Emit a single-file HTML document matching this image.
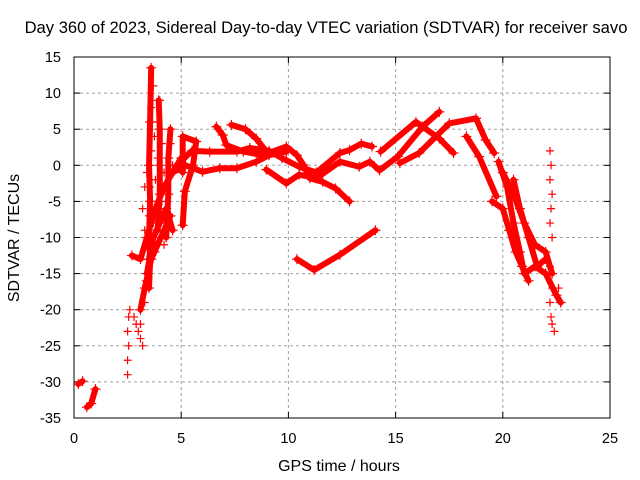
<!DOCTYPE html>
<html><head><meta charset="utf-8"><style>
body{margin:0;background:#fff}
svg{display:block;font-family:"Liberation Sans",sans-serif}
</style></head><body>
<svg id="chart" width="640" height="480" viewBox="0 0 640 480">
<rect width="640" height="480" fill="#fff"/>
<text x="326" y="33" font-size="16.6" text-anchor="middle">Day 360 of 2023, Sidereal Day-to-day VTEC variation (SDTVAR) for receiver savo</text>
<text x="339" y="471" font-size="16" text-anchor="middle">GPS time / hours</text>
<text transform="translate(19,238) rotate(-90)" font-size="16" text-anchor="middle">SDTVAR / TECUs</text>
<g id="grid"></g><g id="ticks"></g><g id="marks"></g>
<rect x="74" y="57" width="536" height="361" fill="none" stroke="#000" stroke-width="1"/>
</svg>
<script>
const xTicks=[0,5,10,15,20,25];
const yTicks=[15,10,5,0,-5,-10,-15,-20,-25,-30,-35];
// dense tracks (hour, TECU)
const trackX1=[6.64,6.94,7.1,7.9,8.8,9.9,10.4,10.7,11.0,11.6,12.2,12.85];
const trackY1=[5.35,4.2,2.8,1.9,1.4,2.6,1.4,0.05,-1.8,-2.3,-3.2,-5.0];
const trackX2=[7.34,8.0,8.5,8.97,9.5,9.9];
const trackY2=[5.6,5.0,3.7,1.9,1.7,1.9];
const trackX3=[5.07,5.07,5.7,5.55,5.17,5.07];
const trackY3=[-1,4.0,3.3,0,-3.6,-8.3];
const trackX4=[4.6,5.2,6.0,6.8,7.6,8.5,9.1,9.9];
const trackY4=[-1,0,-0.9,-0.4,-0.4,0.5,1.4,1.9];
const trackX5=[4.8,5.5,6.33,7.6,8.2,9.1,9.7,10.5,11.3,12.4,12.85,13.4,13.9];
const trackY5=[0,2.0,1.9,1.9,2.4,2.0,1.0,-0.2,-1.0,1.7,2.1,3.0,2.6];
const trackX6=[8.97,9.9,10.5,11.3,12.4,13.3,13.8,14.25,15.1,16.26,17.04];
const trackY6=[-0.6,-2.5,-1.3,-1.8,0.5,-0.2,0.5,-0.7,1.2,5.35,7.4];
const trackX7=[14.3,15.95,16.26,17.04,17.7];
const trackY7=[1.9,6.0,5.35,3.7,1.7];
const trackX8=[15.2,16.1,17.5,18.75,19.2,19.6];
const trackY8=[0.3,1.7,5.8,6.5,3.5,1.7];
const trackX9=[18.3,18.9,19.7];
const trackY9=[4.0,1.2,-4.3];
const trackX10=[10.4,11.2,12.4,14.06];
const trackY10=[-13,-14.5,-12.4,-9];
const trackX11=[19.8,20.2,20.5,20.8,21.0,21.5,22.0,22.5,22.7];
const trackY11=[0.5,-3,-8,-12,-15,-14,-15,-18,-19];
const trackX12=[20.0,20.5,21.0,21.5,22.0,22.3];
const trackY12=[-1,-4,-8,-11,-12,-15];
const trackX13=[19.5,20.0,20.3,20.6,20.9,21.2];
const trackY13=[-5,-6,-9,-12,-14,-16];
const trackX14=[2.7,3.1,3.4,3.8,4.2,4.6,5.0];
const trackY14=[-12.5,-13,-10,-6,-3,-1,1];
const trackX15=[3.4,3.7,4.0,4.3,4.6];
const trackY15=[-15,-10,-8,-6,-9];
const trackX16=[0.2,0.4];
const trackY16=[-30.3,-29.9];
const trackX17=[0.6,0.8,1.0];
const trackY17=[-33.5,-33,-31];
const trackX18=[3.5,3.55,3.5,3.55,3.5,3.55,3.6];
const trackY18=[-17,-13,-10,-5,0,6,13.5];
const trackX19=[3.9,4.0,4.0,4.0,3.95];
const trackY19=[-9,-4,0,5,9];
const trackX20=[4.3,4.4,4.4,4.5];
const trackY20=[-10,-4,1,5];
const trackX21=[3.1,3.3,3.6,3.9,4.2,4.5];
const trackY21=[-20,-17,-13,-11,-9,-7];
const trackX22=[20.5,20.8,21.2,21.6,22.0];
const trackY22=[-2,-6,-10,-14,-13];
// sparse marker series
const sparseX=[2.5,2.5,2.55,2.5,2.55,2.6,2.8,2.9,3.0,3.1,3.1,3.2,3.3,3.35,3.4,3.45,3.5,3.55,3.6,3.6,3.7,3.75,3.8,3.9,4.0,4.1,4.2,4.3,4.5,4.6,3.3,3.2,3.3,3.4,3.7,3.8,4.1,4.2,3.9,22.2,22.25,22.2,22.3,22.25,22.2,22.3,22.2,22.3,22.2,22.25,22.3,22.4,22.6,22.7];
const sparseY=[-29,-27,-25,-23,-21,-20,-21,-22,-23,-24,-22,-25,-19,-16,-13,-10,-7,-3,2,8,11,4,-2,6,9,3,-1,-6,3,0,-9,-6,-3,-1,-8,-12,-5,-11,1,2,0,-2,-4,-6,-8,-10,-14,-17,-19,-21,-22,-23,-17,-19];
const tracks=[[trackX1,trackY1],[trackX2,trackY2],[trackX3,trackY3],[trackX4,trackY4],[trackX5,trackY5],[trackX6,trackY6],[trackX7,trackY7],[trackX8,trackY8],[trackX9,trackY9],[trackX10,trackY10],[trackX11,trackY11],[trackX12,trackY12],[trackX13,trackY13],[trackX14,trackY14],[trackX15,trackY15],[trackX16,trackY16],[trackX17,trackY17],[trackX18,trackY18],[trackX19,trackY19],[trackX20,trackY20],[trackX21,trackY21],[trackX22,trackY22]];
const X0=74,X1=610,Y0=57,Y1=418;
const xs=v=>X0+(v-0)/(25-0)*(X1-X0);
const ys=v=>Y1-(v-(-35))/(15-(-35))*(Y1-Y0);
const NS="http://www.w3.org/2000/svg";
function mk(tag,attrs,parent){const e=document.createElementNS(NS,tag);for(const k in attrs)e.setAttribute(k,attrs[k]);parent.appendChild(e);return e;}
const grid=document.getElementById('grid'),ticks=document.getElementById('ticks'),marks=document.getElementById('marks');
xTicks.forEach(t=>{const x=xs(t);
 if(t>0&&t<25){const g=mk('line',{x1:x,x2:x,y1:Y0,y2:Y1,stroke:'#a0a0a0','stroke-dasharray':'3,3'},grid);
 
 }
 const a=mk('line',{x1:x,x2:x,y1:Y1,y2:Y1-6,stroke:'#000'},ticks);
 
 
 const b=mk('line',{x1:x,x2:x,y1:Y0,y2:Y0+6,stroke:'#000'},ticks);
 
 
 const l=mk('text',{x:x,y:443,'font-size':14.5,'text-anchor':'middle'},ticks);l.textContent=t;
 
 
});
yTicks.forEach(t=>{const y=ys(t);
 if(t<15&&t>-35){const g=mk('line',{x1:X0,x2:X1,y1:y,y2:y,stroke:'#a0a0a0','stroke-dasharray':'3,3'},grid);
 
 }
 const a=mk('line',{x1:X0,x2:X0+6,y1:y,y2:y,stroke:'#000'},ticks);
 
 
 const b=mk('line',{x1:X1,x2:X1-6,y1:y,y2:y,stroke:'#000'},ticks);
 
 
 const l=mk('text',{x:61,y:y+5,'font-size':14.5,'text-anchor':'end'},ticks);l.textContent=t;
 
 
});
function plus(x,y,s,parent){return mk('path',{d:`M${x-s},${y}h${2*s}M${x},${y-s}v${2*s}`,stroke:'#f00','stroke-width':1.2,fill:'none'},parent);}
tracks.forEach(([tx,ty])=>{
 const pts=tx.map((v,i)=>xs(v)+','+ys(ty[i])).join(' ');
 const p=mk('polyline',{points:pts,fill:'none',stroke:'#f00','stroke-width':6,'stroke-linejoin':'round','stroke-linecap':'round'},marks);
 
 
 tx.forEach((v,i)=>{const m=plus(xs(v),ys(ty[i]),5,marks);
  
  });
});
sparseX.forEach((v,i)=>{const m=plus(xs(v),ys(sparseY[i]),4,marks);
 
 });
</script>
</body></html>
